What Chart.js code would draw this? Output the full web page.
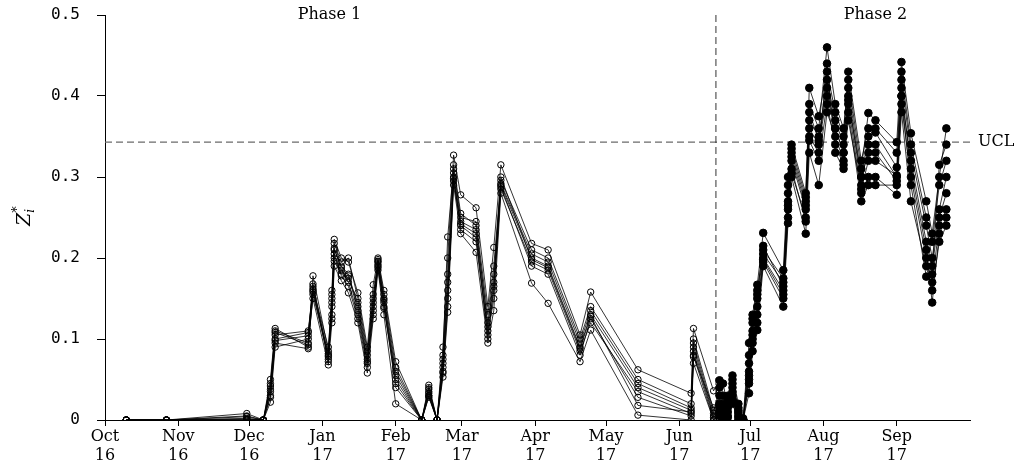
<!DOCTYPE html>
<html>
<head>
<meta charset="utf-8">
<script src="https://cdn.jsdelivr.net/npm/chart.js@4.4.0/dist/chart.umd.min.js"></script>
<style>
  html, body { margin: 0; padding: 0; background: #fff; }
  #wrap { width: 1023px; height: 466px; }
</style>
</head>
<body>
<div id="wrap"><canvas id="chart" width="1023" height="466"></canvas></div>
<script>
// days since 1 Oct 2016
const days = [
  9, 26, 60, 67, 70, 72, 86, 88, 94.5, 96, 97, 100, 103, 107, 111, 113.5, 115.5, 118, 123, 134,
  137, 140.5, 143, 145, 147.5, 150.5, 157, 162, 164.5, 167.5, 180.5, 187.5, 201, 205.5, 225.5, 248, 249, 257.5,
  260, 261.5, 263.5, 265.5, 268, 270, 272.5, 274, 276, 278.5, 287, 289, 290.5, 296.5, 298, 302, 305.5, 309,
  312.5, 314.5, 320, 323, 326, 335, 337, 341, 347.5, 350, 353, 356
];

const s1 = [0,0,0,0,.045,.11,.095,.165,.08,.15,.21,.19,.18,.14,.075,.14,.195,.15,.05,0,.035,0,.07,.17,.305,.245,.235,.12,.17,.29,.2,.19,.09,.13,.04,.012,.09,.005,
  .02,.01,.015,.04,.01,0,.06,.12,.15,.205,.17,.27,.33,.27,.37,.35,.42,.37,.34,.41,.3,.35,.36,.33,.42,.33,.24,.2,.26,.3];
const s2 = [0,0,.002,0,.03,.1,.108,.16,.075,.14,.2,.185,.17,.13,.07,.13,.19,.14,.045,0,.03,0,.06,.15,.295,.24,.225,.11,.16,.285,.195,.185,.085,.12,.035,.008,.08,0,
  .01,.005,.02,.03,.005,0,.05,.1,.14,.2,.16,.26,.32,.26,.36,.34,.4,.36,.33,.4,.29,.34,.34,.3,.4,.32,.22,.19,.25,.28];
const s3 = [0,0,.008,0,.05,.113,.09,.178,.085,.16,.223,.2,.195,.157,.09,.167,.2,.16,.072,0,.043,0,.09,.2,.327,.278,.262,.14,.213,.315,.218,.21,.105,.158,.062,.033,.113,.036,
  .049,.03,.025,.055,.02,.002,.095,.13,.167,.231,.185,.3,.305,.25,.35,.33,.44,.33,.31,.39,.28,.3,.3,.278,.38,.27,.19,.16,.22,.24];
const s4 = [0,0,0,0,.022,.09,.1,.15,.068,.12,.19,.172,.157,.12,.058,.125,.185,.13,.02,0,.028,0,.053,.133,.29,.23,.207,.095,.135,.28,.169,.144,.072,.111,.006,0,.07,0,
  .005,0,.005,.02,0,0,.033,.085,.111,.19,.14,.243,.3,.23,.33,.29,.38,.35,.32,.38,.27,.29,.29,.29,.39,.3,.2,.17,.24,.26];
const s5 = [0,0,.001,0,.038,.105,.11,.162,.09,.145,.218,.195,.2,.15,.085,.15,.198,.155,.065,0,.04,0,.08,.226,.31,.25,.245,.13,.19,.296,.21,.2,.1,.14,.05,.02,.1,.012,
  .03,.02,.03,.045,.015,0,.08,.11,.16,.21,.175,.28,.34,.28,.39,.36,.46,.39,.36,.42,.31,.379,.37,.343,.442,.354,.27,.23,.3,.36];
const s6 = [0,0,.004,0,.042,.108,.093,.155,.078,.13,.205,.178,.165,.125,.065,.135,.192,.145,.04,0,.033,0,.065,.16,.3,.235,.22,.105,.15,.288,.19,.18,.08,.125,.028,.005,.085,.003,
  .015,.012,.01,.025,.008,0,.045,.095,.13,.195,.15,.25,.31,.245,.345,.32,.39,.34,.315,.37,.285,.32,.32,.302,.41,.31,.21,.145,.23,.25];
const s7 = [0,0,0,0,.035,.098,.104,.168,.072,.155,.212,.188,.178,.135,.072,.145,.188,.138,.055,0,.038,0,.075,.18,.315,.255,.24,.115,.18,.292,.205,.195,.095,.135,.045,.015,.095,.008,
  .04,.045,.018,.05,.012,0,.07,.125,.155,.215,.165,.29,.335,.275,.41,.375,.43,.38,.35,.43,.32,.36,.355,.312,.43,.34,.25,.22,.29,.32];
const s8 = [0,0,.005,0,.028,.095,.088,.158,.082,.125,.196,.18,.175,.145,.08,.155,.196,.148,.06,0,.03,0,.058,.14,.298,.242,.23,.1,.165,.3,.198,.188,.088,.128,.018,.01,.078,.015,
  .008,.002,.003,.035,.003,0,.055,.105,.12,.198,.155,.265,.325,.265,.38,.345,.41,.36,.33,.395,.3,.33,.33,.295,.4,.29,.177,.18,.315,.34];

const monthStarts = [0, 31, 61, 92, 123, 151, 182, 212, 243, 273, 304, 335];
const monthNames = ['Oct','Nov','Dec','Jan','Feb','Mar','Apr','May','Jun','Jul','Aug','Sep'];
const yearNames  = ['16','16','16','17','17','17','17','17','17','17','17','17'];
const yTickLabels = ['0','0.1','0.2','0.3','0.4','0.5'];

const ucl = 0.343;
const phaseSplit = 258.5;
const phaseLabels = ['Phase 1', 'Phase 2'];
const phaseLabelDays = [95, 326];

const serif = '"DejaVu Serif", serif';
const allSeries = [s1, s2, s3, s4, s5, s6, s7, s8];
const isPhase2 = ctx => ctx.raw && ctx.raw.x > phaseSplit;

const datasets = allSeries.map(s => ({
  data: s.map((v, i) => ({ x: days[i], y: v })),
  borderColor: '#000',
  borderWidth: 0.8,
  pointRadius: ctx => isPhase2(ctx) ? 3.8 : 3.2,
  pointBorderWidth: 1,
  pointBorderColor: '#000',
  pointBackgroundColor: ctx => isPhase2(ctx) ? '#000' : 'rgba(255,255,255,0)',
  tension: 0
}));

const overlay = {
  id: 'overlay',
  beforeDatasetsDraw(chart) {
    const { ctx, chartArea: a, scales: { x, y } } = chart;
    ctx.save();
    // UCL
    ctx.strokeStyle = '#6b6b6b';
    ctx.lineWidth = 1.3;
    ctx.setLineDash([7, 4]);
    const yu = y.getPixelForValue(ucl);
    ctx.beginPath();
    ctx.moveTo(a.left, yu);
    ctx.lineTo(a.right, yu);
    ctx.stroke();
    // phase split
    ctx.strokeStyle = '#333';
    ctx.lineWidth = 1;
    const xs = x.getPixelForValue(phaseSplit);
    ctx.beginPath();
    ctx.moveTo(xs, a.top);
    ctx.lineTo(xs, a.bottom);
    ctx.stroke();
    ctx.restore();
  },
  afterDraw(chart) {
    const { ctx, chartArea: a, scales: { x, y } } = chart;
    ctx.save();
    ctx.fillStyle = '#000';
    ctx.font = '16px ' + serif;
    ctx.textBaseline = 'middle';
    ctx.textAlign = 'center';
    phaseLabels.forEach((t, i) => ctx.fillText(t, x.getPixelForValue(phaseLabelDays[i]), a.top));
    ctx.textAlign = 'left';
    ctx.fillText('UCL', a.right + 8, y.getPixelForValue(ucl));

    // y axis title Z_i^*
    ctx.translate(30, (a.top + a.bottom) / 2);
    ctx.rotate(-Math.PI / 2);
    ctx.textBaseline = 'alphabetic';
    ctx.font = 'italic 19px ' + serif;
    const wz = ctx.measureText('Z').width;
    ctx.font = 'italic 12px ' + serif;
    const wi = ctx.measureText('i').width;
    const x0 = -(wz + wi) / 2;
    ctx.font = 'italic 19px ' + serif;
    ctx.fillText('Z', x0, 0);
    ctx.font = 'italic 12px ' + serif;
    ctx.fillText('i', x0 + wz, 4);
    ctx.font = '13px ' + serif;
    ctx.fillText('*', x0 + wz, -9);
    ctx.restore();
  }
};

const noScalePad = s => { s.paddingTop = 0; s.paddingBottom = 0; s.paddingLeft = 0; s.paddingRight = 0; };

new Chart(document.getElementById('chart'), {
  type: 'line',
  data: { datasets },
  options: {
    responsive: false,
    animation: false,
    devicePixelRatio: 1,
    layout: { padding: { top: 15, right: 53, left: 0, bottom: 0 } },
    plugins: { legend: { display: false }, tooltip: { enabled: false } },
    scales: {
      x: {
        type: 'linear',
        min: 0,
        max: 366,
        afterBuildTicks: s => { s.ticks = monthStarts.map(v => ({ value: v })); },
        afterFit: s => { s.height = 46; noScalePad(s); },
        grid: { drawOnChartArea: false, drawTicks: true, tickLength: 6, color: '#000', lineWidth: 1 },
        border: { display: true, color: '#000', width: 1 },
        ticks: {
          autoSkip: false,
          maxRotation: 0,
          padding: 1,
          color: '#000',
          font: { family: serif, size: 16, lineHeight: 1.2 },
          callback: (v, i) => [monthNames[i], yearNames[i]]
        }
      },
      y: {
        min: 0,
        max: 0.5,
        afterBuildTicks: s => { s.ticks = yTickLabels.map(t => ({ value: parseFloat(t) })); },
        afterFit: s => { s.width = 105; noScalePad(s); },
        grid: { drawOnChartArea: false, drawTicks: true, tickLength: 8, color: '#000', lineWidth: 1 },
        border: { display: true, color: '#000', width: 1 },
        ticks: {
          padding: 17,
          color: '#000',
          font: { family: '"DejaVu Sans Mono", monospace', size: 16 },
          callback: (v, i) => yTickLabels[i]
        }
      }
    }
  },
  plugins: [overlay]
});
</script>
</body>
</html>
